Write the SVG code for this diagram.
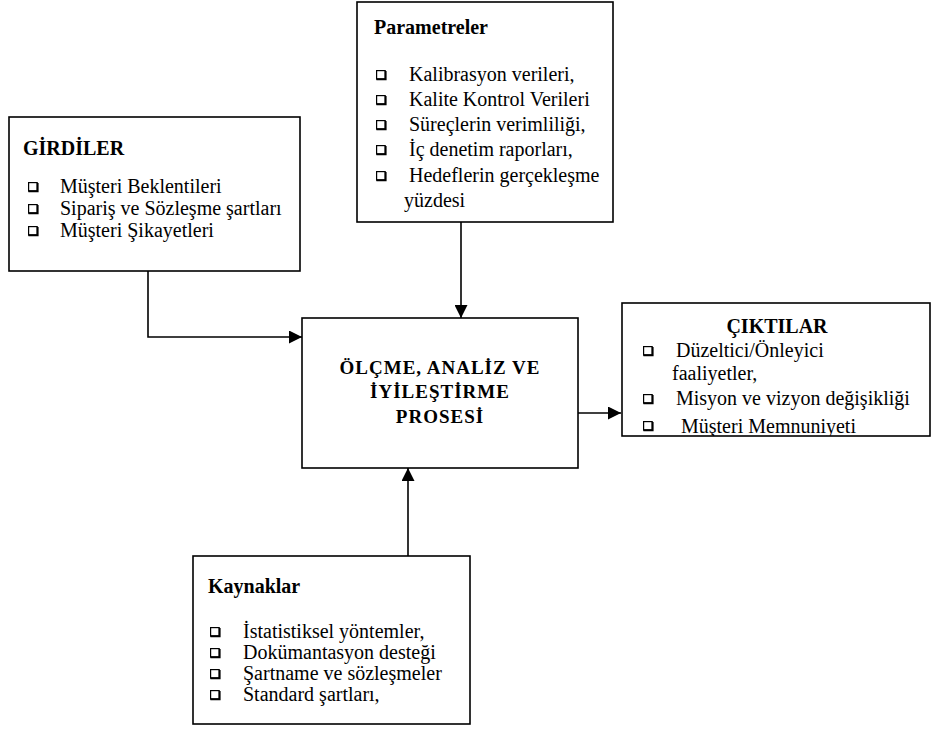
<svg xmlns="http://www.w3.org/2000/svg" xmlns:xlink="http://www.w3.org/1999/xlink" width="938" height="731" viewBox="0 0 938 731">
  <style>
    .box { fill: #ffffff; stroke: #000000; stroke-width: 1.6; }
    .title { font-family: "Liberation Serif", "Times New Roman", serif; font-size: 20px; font-weight: bold; fill: #000; }
    .main { font-family: "Liberation Serif", "Times New Roman", serif; font-size: 19px; font-weight: bold; fill: #000; letter-spacing: 1px; }
    .item { font-family: "Liberation Serif", "Times New Roman", serif; font-size: 20px; fill: #000; }
    .wire { fill: none; stroke: #000000; stroke-width: 1.6; }
  </style>
  <defs>
    <!-- hollow square bullet with a heavier bottom/right edge -->
    <symbol id="bul" viewBox="0 0 10 10" width="10" height="10" overflow="visible">
      <rect x="0.6" y="0.6" width="8.6" height="8.4" fill="#fff" stroke="#000" stroke-width="1.2"/>
      <path d="M0.4 9.2 H9.6 V1" fill="none" stroke="#000" stroke-width="2"/>
    </symbol>
    <marker id="arrow" viewBox="0 0 12 12" refX="12" refY="6" markerWidth="13" markerHeight="13" markerUnits="userSpaceOnUse" orient="auto">
      <path d="M0 0 L12 6 L0 12 Z" fill="#000"/>
    </marker>
    <!-- the outputs box cuts off whatever runs past its lower edge -->
    <clipPath id="ciktilar-clip">
      <rect x="622" y="303" width="308" height="133"/>
    </clipPath>
  </defs>

  <rect width="938" height="731" fill="#ffffff"/>

  <!-- connectors -->
  <g id="connectors">
    <path class="wire" d="M148 271 V337 H302" marker-end="url(#arrow)"/>
    <path class="wire" d="M461 222 V318" marker-end="url(#arrow)"/>
    <path class="wire" d="M578 413 H621" marker-end="url(#arrow)"/>
    <path class="wire" d="M408 556 V468" marker-end="url(#arrow)"/>
  </g>

  <!-- inputs -->
  <g id="girdiler">
    <rect class="box" x="9" y="117" width="291" height="154"/>
    <text class="title" x="23" y="155">GİRDİLER</text>
    <use xlink:href="#bul" x="28" y="182"/>
    <text class="item" x="60" y="193">Müşteri Beklentileri</text>
    <use xlink:href="#bul" x="28" y="204"/>
    <text class="item" x="60" y="215">Sipariş ve Sözleşme şartları</text>
    <use xlink:href="#bul" x="28" y="226"/>
    <text class="item" x="60" y="237">Müşteri Şikayetleri</text>
  </g>

  <!-- parameters -->
  <g id="parametreler">
    <rect class="box" x="357" y="2" width="256" height="220"/>
    <text class="title" x="374" y="34">Parametreler</text>
    <use xlink:href="#bul" x="376" y="70"/>
    <text class="item" x="409" y="81">Kalibrasyon verileri,</text>
    <use xlink:href="#bul" x="376" y="95"/>
    <text class="item" x="409" y="106">Kalite Kontrol Verileri</text>
    <use xlink:href="#bul" x="376" y="120"/>
    <text class="item" x="409" y="131">Süreçlerin verimliliği,</text>
    <use xlink:href="#bul" x="376" y="145"/>
    <text class="item" x="409" y="156">İç denetim raporları,</text>
    <use xlink:href="#bul" x="376" y="171"/>
    <text class="item" x="409" y="182">Hedeflerin gerçekleşme</text>
    <text class="item" x="404" y="207">yüzdesi</text>
  </g>

  <!-- process -->
  <g id="proses">
    <rect class="box" x="302" y="318" width="276" height="150"/>
    <text class="main" x="440" y="374" text-anchor="middle">ÖLÇME, ANALİZ VE</text>
    <text class="main" x="440" y="398" text-anchor="middle">İYİLEŞTİRME</text>
    <text class="main" x="440" y="423" text-anchor="middle">PROSESİ</text>
  </g>

  <!-- outputs -->
  <g id="ciktilar">
    <rect class="box" x="622" y="303" width="308" height="133"/>
    <g clip-path="url(#ciktilar-clip)">
      <text class="title" x="777" y="333" text-anchor="middle">ÇIKTILAR</text>
      <use xlink:href="#bul" x="643" y="346"/>
      <text class="item" x="676" y="357">Düzeltici/Önleyici</text>
      <text class="item" x="672" y="380">faaliyetler,</text>
      <use xlink:href="#bul" x="643" y="394"/>
      <text class="item" x="676" y="405">Misyon ve vizyon değişikliği</text>
      <use xlink:href="#bul" x="643" y="421"/>
      <text class="item" x="681" y="433">Müşteri Memnuniyeti</text>
    </g>
  </g>

  <!-- resources -->
  <g id="kaynaklar">
    <rect class="box" x="193" y="556" width="277" height="168"/>
    <text class="title" x="208" y="593">Kaynaklar</text>
    <use xlink:href="#bul" x="210" y="627"/>
    <text class="item" x="243" y="638">İstatistiksel yöntemler,</text>
    <use xlink:href="#bul" x="210" y="648"/>
    <text class="item" x="243" y="659">Dokümantasyon desteği</text>
    <use xlink:href="#bul" x="210" y="669"/>
    <text class="item" x="243" y="680">Şartname ve sözleşmeler</text>
    <use xlink:href="#bul" x="210" y="690"/>
    <text class="item" x="243" y="701">Standard şartları,</text>
  </g>
</svg>
